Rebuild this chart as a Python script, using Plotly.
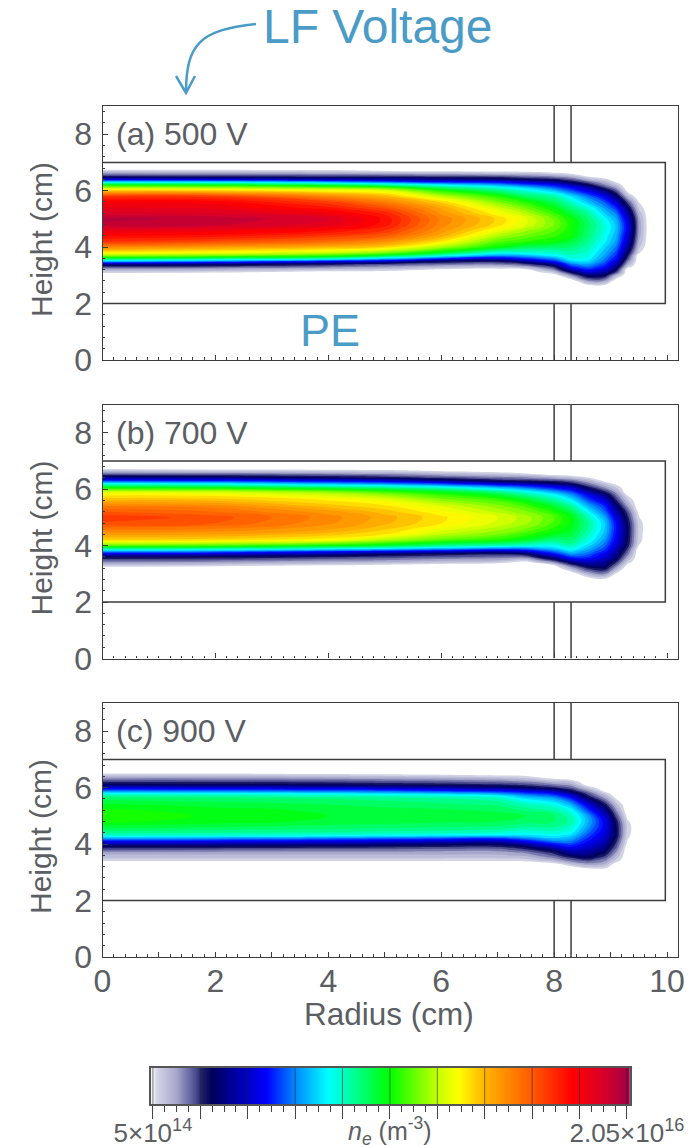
import plotly.graph_objects as go

# ---- data; densities in units of 1e15 m^-3 ----
radius_ab = [0, 2, 4, 5, 6, 7, 7.5, 8, 8.3, 8.6, 8.9, 9.1, 9.3, 9.5, 9.7]
radius_c = [0, 2, 4, 5, 6, 7, 7.5, 8, 8.3, 8.6, 8.9, 9.1, 9.3, 9.5]
height_a = [2.6, 2.8, 3.0, 3.1, 3.2, 3.3, 3.4, 3.5, 3.6, 3.7, 3.8, 4.0, 4.2, 4.4, 4.6, 4.8, 5.0, 5.2, 5.4, 5.6, 5.8, 6.0, 6.1, 6.2, 6.3, 6.4, 6.5, 6.6, 6.7, 6.8]
height_b = [2.6, 2.8, 3.0, 3.2, 3.3, 3.4, 3.5, 3.6, 3.7, 3.8, 3.9, 4.0, 4.2, 4.4, 4.6, 4.8, 5.0, 5.2, 5.4, 5.6, 5.8, 5.9, 6.0, 6.1, 6.2, 6.3, 6.4, 6.5, 6.6, 6.7, 6.8]
height_c = [3.0, 3.1, 3.2, 3.3, 3.4, 3.5, 3.6, 3.7, 3.8, 3.9, 4.0, 4.1, 4.2, 4.3, 4.4, 4.6, 4.8, 5.0, 5.2, 5.4, 5.6, 5.7, 5.8, 5.9, 6.0, 6.1, 6.2, 6.3, 6.4, 6.5, 6.6]

# one list per radius, running up the height rows
density_a = [
    [0,0,0,.6,1.3,2.3,3.9,7.3,10,12,13.5,15.5,17.3,18.1,19,20,20.2,19.4,18.9,18.4,17.2,14.2,12.4,10.5,7.9,4.7,2.7,1.8,.9,0],
    [0,0,0,.5,1.2,2.2,3.5,6.5,9.3,11.7,13.2,15,16.8,17.9,18.7,19.8,20,19.3,18.8,18.3,17.1,14.1,12.3,10.4,7.7,4.6,2.6,1.7,.8,0],
    [0,0,0,.2,.9,1.9,2.8,5.3,8.8,11,12.6,14.5,16.1,17.2,18.1,19.1,19.3,18.6,17.8,17,15.5,13.4,11.8,9.8,7,4.2,2.5,1.6,.7,0],
    [0,0,0,.1,.8,1.6,2.4,4.6,7.5,10,11.7,14,15.3,16.5,17.3,17.9,18,17.6,16.7,15.7,14.5,13,11.3,9,6.4,4,2.5,1.5,.5,0],
    [0,0,0,0,.4,1.2,2.1,3,5.8,8.3,10.1,12.2,13.7,14.7,15.2,15.5,15.6,15.2,14.8,14,12.5,10.8,9.5,7.9,5.6,3.7,2.4,1.4,.4,0],
    [0,0,0,0,.2,1,1.9,2.8,4.9,6.7,8.2,10.5,11.4,12.3,13.2,13.9,14,13.4,12.7,11.8,10.8,9.2,8.3,6.9,5.3,3.4,2.3,1.2,.3,0],
    [0,0,0,0,.3,1.4,2.4,4,5.7,7.1,8.3,9.6,10.9,11.6,12.2,12.9,13,12.4,11.6,10.8,9.5,8.3,7.4,6,4.7,3,2,1.1,.2,0],
    [0,0,.1,.9,1.8,2.6,3.9,5.6,6.7,7.9,8.4,9.4,10.5,11,11.4,11.7,11.6,11,10.3,9.6,8.8,7.2,6.2,5.3,3.9,2.7,1.7,.8,0,0],
    [0,0,1.7,2.8,4.1,5.5,6.4,7.4,8.1,8.4,8.7,9.3,9.9,10.5,10.6,10.7,10.5,9.9,9.2,8.5,7.6,6,5.3,4.2,3,2.2,1.3,.5,0,0],
    [0,1.6,3.3,4.4,5.5,6.3,6.9,7.6,8,8.2,8.4,8.7,9,9.3,9.4,9.5,9.3,8.9,8.2,7.2,6.3,4.9,4.2,3,2.2,1.3,.5,0,0,0],
    [0,1.5,3,3.8,4.5,5.3,5.8,6.2,6.5,6.8,7,7.4,7.8,8,8.2,8.2,7.9,7.3,6.7,6,5,3.4,2.5,1.8,1.3,.7,0,0,0,0],
    [0,0,1.2,2.3,3,3.6,4.2,4.7,5.3,5.6,5.9,6.4,6.8,7,7.2,7.2,6.9,6.4,5.6,4.5,3.3,2.2,1.6,1,.5,0,0,0,0,0],
    [0,0,0,0,0,.8,1.4,1.9,2.4,2.8,3.2,3.9,4.4,4.7,5,5,4.7,4,3.2,2.3,1.2,.3,0,0,0,0,0,0,0,0],
    [0,0,0,0,0,0,0,0,0,0,.6,1,1.3,1.5,1.6,1.6,1.5,1.2,.8,.5,0,0,0,0,0,0,0,0,0,0],
    [0,0,0,0,0,0,0,0,0,0,0,0,0,0,0,0,0,0,0,0,0,0,0,0,0,0,0,0,0,0],
]
density_b = [
    [0,0,0,.1,.9,1.6,2.3,3,4.7,6.9,9.2,11.5,14,15,15.9,16.8,17.2,16.5,15.7,14.5,13.6,12.9,11.4,9.7,7.9,5.7,3.8,2.5,1.5,.6,0],
    [0,0,0,0,.7,1.5,2.2,2.9,4.4,6.6,9,11.2,13.9,14.9,15.7,16.5,16.7,16.1,15.5,14.4,13.5,12.7,11.2,9.5,7.7,5.5,3.6,2.4,1.4,.5,0],
    [0,0,0,0,.5,1.2,1.9,2.6,3.8,5.7,8.3,10.5,13.4,14.3,15,15.4,15.5,15.1,14.3,13.7,12.7,12,10.5,8.7,6.8,5.1,3,2.2,1.2,.4,0],
    [0,0,0,0,.3,1.1,1.8,2.4,3.2,5.3,7.9,10,12.3,13.7,14.2,14.6,14.7,14.3,13.8,13.2,12,11.2,9.9,8.3,6.4,4.7,2.8,2,1.1,.3,0],
    [0,0,0,0,.1,.9,1.5,2.2,2.8,4.9,7.2,9.1,11.4,12.5,13.2,13.7,13.8,13.4,12.9,12,11,10.3,9.2,7.5,5.7,3.6,2.4,1.6,.8,0,0],
    [0,0,0,0,0,.7,1.4,2,2.6,4.2,6.6,8.6,10.8,11.7,12.3,12.8,12.9,12.4,11.9,11.2,10,9.2,7.9,6.4,4.5,2.8,2,1.2,.5,0,0],
    [0,0,0,0,0,.2,1,2,3,4.8,6.6,8.3,10.1,11,11.7,12.2,12.3,11.8,11.2,10.3,9,8.2,7,5.7,3.9,2.6,1.8,1,.1,0,0],
    [0,0,0,0,.5,1.6,2.8,4,5.3,6.4,7.4,8.1,9.2,10.2,10.8,11.2,11.3,10.8,10,9,7.9,6.9,5.9,4.8,3.3,2.4,1.4,.5,0,0,0],
    [0,0,0,1.3,2.2,3.2,4.6,5.7,6.7,7.5,8.2,8.7,9.4,9.9,10.2,10.4,10.4,9.8,8.9,7.9,6.7,6,5.1,4.1,2.8,2,1.1,.3,0,0,0],
    [0,0,1.3,2.6,3.4,4.2,5,5.7,6.2,6.6,7.1,7.5,8.2,8.6,8.9,9,8.7,7.9,7,6,5.1,4.2,3.3,2.5,1.9,1.3,.6,0,0,0,0],
    [0,.3,1.7,3,3.4,3.8,4.2,4.7,5,5.5,5.9,6.2,6.7,7.1,7.3,7.3,6.9,6.2,5.6,4.7,3.4,2.7,2,1.4,.9,.3,0,0,0,0,0],
    [0,0,.4,1.4,2,2.5,3,3.4,3.7,4,4.3,4.6,5,5.2,5.3,5.2,4.8,4.1,3.4,2.6,1.9,1.5,1.1,.7,.3,0,0,0,0,0,0],
    [0,0,0,0,.3,.7,1.1,1.5,1.9,2.2,2.5,2.8,3,3.1,3.1,3,2.7,2.3,1.6,1,.4,0,0,0,0,0,0,0,0,0,0],
    [0,0,0,0,0,0,0,0,0,0,.2,.5,.7,.75,.8,.75,.55,.3,0,0,0,0,0,0,0,0,0,0,0,0,0],
    [0,0,0,0,0,0,0,0,0,0,0,0,0,0,0,0,0,0,0,0,0,0,0,0,0,0,0,0,0,0,0],
]
density_c = [
    [0,0,0,0,.5,.9,1.2,1.5,2.2,2.8,4,5.2,6.8,8.3,9,9.9,10.6,10.9,10.6,10.2,9.6,9,7.9,6.2,4.7,3.2,2.5,1.9,1.2,.5,0],
    [0,0,0,0,.5,.9,1.2,1.5,2.1,2.8,3.9,5.1,6.6,8.2,8.9,9.7,10.3,10.4,10.3,9.9,9.5,8.9,7.8,6.1,4.6,3.1,2.5,1.9,1.2,.5,0],
    [0,0,0,0,.5,.9,1.2,1.5,2,2.7,3.7,4.9,6.3,8,8.8,9.5,10,10.1,10,9.7,9.3,8.7,7.6,5.9,4.4,3,2.4,1.8,1.1,.4,0],
    [0,0,0,0,.5,.9,1.2,1.5,2,2.6,3.5,4.7,6.1,7.8,8.7,9.4,9.9,10,9.9,9.5,9.2,8.6,7.4,5.8,4.3,2.9,2.3,1.7,1,.3,0],
    [0,0,0,0,.5,.9,1.2,1.5,1.9,2.5,3.3,4.5,5.9,7.6,8.6,9.3,9.8,10,9.8,9.4,9,8.4,7.1,5.4,4,2.8,2.2,1.6,.9,.2,0],
    [0,0,0,0,.5,.9,1.2,1.5,1.9,2.5,3.2,4.3,5.7,7.5,8.4,9.2,9.7,9.9,9.6,9.2,8.7,8,6.6,5,3.5,2.6,2,1.4,.7,.1,0],
    [0,0,0,0,.6,1,1.4,1.8,2.4,3,4,5.2,6.4,7.5,8.1,8.9,9.5,9.7,9.2,8.6,7.7,6.9,5.9,4.6,3.1,2.4,1.8,1.1,.6,0,0],
    [0,0,0,.3,1.1,1.7,2.2,2.7,3.4,4.4,5.4,6.4,7.2,7.8,8.3,8.9,9.3,9.4,8.8,8.1,7,6.2,5.2,3.9,2.6,1.9,1.2,.6,0,0,0],
    [0,0,.4,1.1,1.8,2.4,3.2,3.9,4.6,5.3,5.9,6.4,6.9,7.4,7.9,8.4,8.8,8.6,8,7,5.7,4.9,3.8,2.8,2.1,1.5,1,.4,0,0,0],
    [0,.2,.9,1.6,2.2,2.9,3.4,3.8,4.2,4.6,4.9,5.3,5.6,5.9,6.2,6.7,7,6.8,5.8,4.8,3.4,2.7,2.2,1.6,.9,.2,0,0,0,0,0],
    [0,.3,.8,1.3,1.7,2.1,2.6,3,3.3,3.6,3.9,4.2,4.4,4.6,4.8,5,5,4.5,3.7,2.8,1.8,1.3,.8,.2,0,0,0,0,0,0,0],
    [0,0,0,.2,.7,1,1.3,1.6,1.9,2.2,2.4,2.6,2.8,3,3,3,2.8,2.3,1.7,1.1,.5,.2,0,0,0,0,0,0,0,0,0],
    [0,0,0,0,0,0,0,0,0,.1,.3,.45,.55,.65,.7,.75,.6,.3,0,0,0,0,0,0,0,0,0,0,0,0,0],
    [0,0,0,0,0,0,0,0,0,0,0,0,0,0,0,0,0,0,0,0,0,0,0,0,0,0,0,0,0,0,0],
]

panel_labels = ["(a) 500 V", "(b) 700 V", "(c) 900 V"]
x_ticks = [0, 1, 2, 3, 4, 5, 6, 7, 8, 9, 10]
x_tick_text = ["0", "", "2", "", "4", "", "6", "", "8", "", "10"]
y_ticks = [0, 2, 4, 6, 8]
chamber_r = [0, 9.97, 9.97, 0]
chamber_h = [7, 7, 2, 2]
wall_r = [8, 8, None, 8.3, 8.3, None, 8, 8, None, 8.3, 8.3]
wall_h = [9, 7, None, 9, 7, None, 2, 0, None, 2, 0]
bar_ticks = [0.5, 2.5, 4.5, 6.5, 8.5, 10.5, 12.5, 14.5, 16.5, 18.5, 20.5]
bar_tick_text = ["5×10<sup>14</sup>", "", "", "", "", "", "", "", "", "", "2.05×10<sup>16</sup>"]

# colour stops: density (1e15 m^-3), colour
colour_stops = [
    (0.3, "#ffffff"), (0.5, "#f2f2f8"), (0.7, "#d2d3e5"), (1.5, "#a6a7cb"), (2.3, "#4c4c90"),
    (2.6, "#1c1c68"), (3.0, "#000058"), (3.6, "#000088"), (4.5, "#0000c8"), (5.3, "#0000ff"),
    (6.5, "#0088ff"), (7.9, "#00ffff"), (8.5, "#00ffc4"), (10.5, "#00ff00"), (12.5, "#c4ff00"),
    (13.4, "#ffff00"), (14.5, "#ffb400"), (16.5, "#ff5a00"), (18.2, "#ff0000"), (19.5, "#d80028"),
    (20.7, "#9c0048"),
]
Z_LOW, Z_HIGH = 0.3, 20.7
colorscale = [[(z - Z_LOW) / (Z_HIGH - Z_LOW), c] for z, c in colour_stops]

W, H = 697, 1145
GREY = "#5b5e63"
BLUE = "#4a9cc7"
LINE = "#3c3c3c"
FONT = "Liberation Sans"

def px(x):
    return x / W

def py(y):
    return 1 - y / H

def columns_to_rows(cols):
    return [list(row) for row in zip(*cols)]

panels = [
    (radius_ab, height_a, density_a, 106, 360),
    (radius_ab, height_b, density_b, 404.5, 658.5),
    (radius_c, height_c, density_c, 703, 957),
]

annotations = []
fig = go.Figure()
for i, (rad, hgt, dens, top, bottom) in enumerate(panels):
    n = i + 1
    xa = "x" if n == 1 else f"x{n}"
    ya = "y" if n == 1 else f"y{n}"
    fig.add_trace(go.Contour(
        x=rad, y=hgt, z=columns_to_rows(dens), xaxis=xa, yaxis=ya,
        colorscale=colorscale, zmin=Z_LOW, zmax=Z_HIGH, showscale=False,
        autocontour=False, contours=dict(start=0.5, end=20.5, size=0.4, coloring="fill", showlines=False),
        line=dict(width=0, smoothing=1.3), hoverinfo="skip",
    ))
    fig.add_trace(go.Scatter(x=chamber_r, y=chamber_h, mode="lines", xaxis=xa, yaxis=ya,
                             line=dict(color=LINE, width=1.5), showlegend=False, hoverinfo="skip"))
    fig.add_trace(go.Scatter(x=wall_r, y=wall_h, mode="lines", xaxis=xa, yaxis=ya,
                             line=dict(color=LINE, width=1.5), showlegend=False, hoverinfo="skip"))
    axis_common = dict(showgrid=False, zeroline=False, showline=True, mirror=True, automargin=False,
                       linecolor=LINE, linewidth=1.3, ticks="inside", tickcolor=LINE,
                       tickfont=dict(family=FONT, size=32, color=GREY))
    x_axis = dict(axis_common, domain=[px(102.5), px(678.3)], range=[0, 10.2], anchor=ya,
                  tickmode="array", tickvals=x_ticks, ticktext=x_tick_text, ticklen=5, tickwidth=1.2,
                  showticklabels=(n == 3), ticklabelstandoff=-5,
                  minor=dict(ticks="inside", dtick=0.2, tick0=0, ticklen=2.5, tickwidth=1, tickcolor=LINE))
    y_axis = dict(axis_common, domain=[py(bottom), py(top)], range=[0, 9], anchor=xa,
                  tickmode="array", tickvals=y_ticks, ticklen=5, tickwidth=1.2, ticklabelstandoff=3,
                  minor=dict(ticks="inside", dtick=0.4, tick0=0, ticklen=2.5, tickwidth=1, tickcolor=LINE))
    suffix = "" if n == 1 else str(n)
    fig.layout["xaxis" + suffix] = x_axis
    fig.layout["yaxis" + suffix] = y_axis
    annotations.append(dict(text="Height (cm)", x=px(41), y=py((top + bottom) / 2 + 7), xref="paper", yref="paper",
                            textangle=-90, xanchor="center", yanchor="middle", showarrow=False,
                            font=dict(family=FONT, size=30, color=GREY)))

# colour strip: a single row of densities spaced across the bar
strip_x = [0.42 + k * 0.02 for k in range(1011)]
fig.add_trace(go.Heatmap(x=strip_x, y=[0, 1], z=[strip_x, strip_x], xaxis="x4", yaxis="y4",
                         colorscale=colorscale, zmin=Z_LOW, zmax=Z_HIGH, showscale=False, hoverinfo="skip"))
bar_line_x = []
bar_line_y = []
for t in bar_ticks:
    bar_line_x += [t, t, None]
    bar_line_y += [0, 1, None]
fig.add_trace(go.Scatter(x=bar_line_x, y=bar_line_y, mode="lines", xaxis="x4", yaxis="y4",
                         line=dict(color="rgba(30,30,30,0.55)", width=1), showlegend=False, hoverinfo="skip"))

fig.update_layout(
    width=W, height=H, margin=dict(l=0, r=0, t=0, b=0), autosize=False,
    paper_bgcolor="white", plot_bgcolor="white", showlegend=False,
    font=dict(family=FONT, color=GREY),
    xaxis4=dict(domain=[px(151), px(630)], range=[0.42, 20.63], anchor="y4", showgrid=False, zeroline=False,
                automargin=False,
                showline=True, mirror=True, linecolor="#555555", linewidth=1.5, ticks="outside", ticklen=13,
                tickwidth=1.2, tickcolor="#444444", tickmode="array", tickvals=bar_ticks, ticktext=bar_tick_text,
                tickfont=dict(family=FONT, size=26, color=GREY), ticklabelstandoff=-8,
                minor=dict(ticks="outside", dtick=0.5, tick0=0.5, ticklen=6, tickwidth=1, tickcolor="#444444")),
    yaxis4=dict(domain=[py(1104), py(1068)], range=[0, 1], anchor="x4", showgrid=False, zeroline=False,
                automargin=False,
                showticklabels=False, showline=True, mirror=True, linecolor="#555555", linewidth=1.5, ticks=""),
)

for i, label in enumerate(panel_labels):
    n = i + 1
    annotations.append(dict(text=label, x=0.2, y=8, xref="x" if n == 1 else f"x{n}", yref="y" if n == 1 else f"y{n}",
                            xanchor="left", yanchor="middle", showarrow=False,
                            font=dict(family=FONT, size=32, color=GREY)))
annotations += [
    dict(text="Radius (cm)", x=px(389), y=py(1014), xref="paper", yref="paper", xanchor="center", yanchor="middle",
         showarrow=False, font=dict(family=FONT, size=31.5, color=GREY)),
    dict(text="LF Voltage", x=px(378), y=py(27), xref="paper", yref="paper", xanchor="center", yanchor="middle",
         showarrow=False, font=dict(family=FONT, size=48, color=BLUE)),
    dict(text="PE", x=px(330), y=py(330), xref="paper", yref="paper", xanchor="center", yanchor="middle",
         showarrow=False, font=dict(family=FONT, size=45, color=BLUE)),
    dict(text="<i>n<sub>e</sub></i> (m<sup>-3</sup>)", x=px(390), y=py(1131), xref="paper", yref="paper",
         xanchor="center", yanchor="middle", showarrow=False, font=dict(family=FONT, size=25, color=GREY)),
]
fig.update_layout(annotations=annotations)

arrow_curve = (f"M {px(256)} {py(24)} C {px(200)} {py(30)} {px(186)} {py(44)} {px(186)} {py(93)} "
               f"M {px(176)} {py(76)} L {px(186)} {py(93)} L {px(195)} {py(76)}")
fig.add_shape(type="path", path=arrow_curve, xref="paper", yref="paper", line=dict(color=BLUE, width=2.5))

fig.write_html("out.html", config=dict(displayModeBar=False),
               post_script="document.body.style.margin='0';window.dispatchEvent(new Event('resize'));")
